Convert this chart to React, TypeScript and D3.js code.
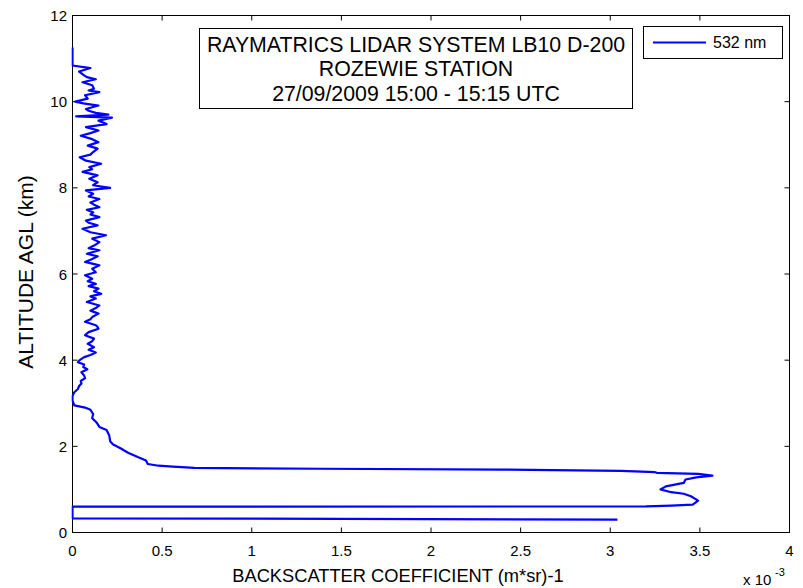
import React from "react";
import * as d3 from "d3";

// Altitude (km AGL) and backscatter coefficient (x 1e-3 (m*sr)^-1), ordered by altitude
const ALT_KM = [
  0.30, 0.33, 0.60, 0.605, 0.625, 0.645, 0.74, 0.84, 0.90, 0.935, 1.0, 1.07, 1.15, 1.23, 1.28, 1.32, 1.36, 1.385, 1.40, 1.43, 1.46, 1.48, 1.50, 1.53, 1.55, 1.59, 1.67, 1.75, 1.85, 1.95, 2.05, 2.12, 2.25, 2.38, 2.45, 2.55, 2.65, 2.75, 2.85, 2.90, 2.95,
  3.06, 3.17, 3.25, 3.33, 3.40, 3.46, 3.52, 3.58, 3.64, 3.72, 3.79, 3.84, 3.90, 3.95, 4.00, 4.07, 4.12, 4.18, 4.24, 4.30, 4.38, 4.44, 4.50, 4.58, 4.65, 4.73, 4.77, 4.81, 4.89, 4.95, 5.00, 5.08, 5.15, 5.21, 5.27, 5.35, 5.43, 5.48, 5.54, 5.60, 5.66, 5.72, 5.77, 5.83, 5.89, 5.97, 6.04, 6.12, 6.20, 6.28, 6.35, 6.41, 6.47, 6.55, 6.60, 6.66, 6.74, 6.82, 6.90,
  6.97, 7.05, 7.13, 7.19, 7.24, 7.32, 7.38, 7.43, 7.49, 7.55, 7.61, 7.66, 7.74, 7.80, 7.86, 7.94, 8.00, 8.06, 8.13, 8.21, 8.29, 8.37, 8.43, 8.48, 8.56, 8.63, 8.71, 8.77, 8.83, 8.91, 8.98,
  9.06, 9.13, 9.21, 9.27, 9.33, 9.41, 9.48, 9.56, 9.63, 9.66, 9.70, 9.74, 9.79, 9.83, 9.91, 9.96, 10.0, 10.07, 10.15, 10.22, 10.26, 10.30, 10.38, 10.45, 10.52, 10.57, 10.61, 10.70, 10.78, 10.84, 11.26,
];
const BACKSCATTER = [
  3.04, 0.0, 0.0, 3.20, 3.34, 3.46, 3.49, 3.45, 3.41, 3.34, 3.28, 3.31, 3.41, 3.42, 3.48, 3.57, 3.49, 3.26, 3.25, 3.06, 2.40, 1.39, 0.68, 0.56, 0.48, 0.42, 0.41, 0.364, 0.31, 0.27, 0.225, 0.21, 0.205, 0.19, 0.15, 0.135, 0.11, 0.115, 0.10, 0.07, 0.01,
  0.0, 0.0, 0.009, 0.03, 0.037, 0.05, 0.046, 0.07, 0.065, 0.05, 0.083, 0.06, 0.065, 0.03, 0.04, 0.065, 0.1, 0.13, 0.09, 0.12, 0.085, 0.11, 0.12, 0.07, 0.09, 0.145, 0.14, 0.13, 0.07, 0.1, 0.11, 0.145, 0.10, 0.13, 0.15, 0.08, 0.13, 0.1, 0.16, 0.12, 0.145, 0.09, 0.13, 0.085, 0.11, 0.07, 0.13, 0.11, 0.15, 0.07, 0.11, 0.14, 0.08, 0.15, 0.09, 0.12, 0.15, 0.11, 0.187,
  0.10, 0.056, 0.14, 0.09, 0.075, 0.15, 0.1, 0.115, 0.08, 0.15, 0.12, 0.10, 0.15, 0.09, 0.115, 0.075, 0.21, 0.115, 0.14, 0.094, 0.14, 0.056, 0.11, 0.094, 0.16, 0.075, 0.04, 0.1, 0.115, 0.14, 0.085,
  0.145, 0.11, 0.046, 0.1, 0.145, 0.075, 0.19, 0.145, 0.22, 0.02, 0.2, 0.13, 0.09, 0.075, 0.145, 0.06, 0.015, 0.085, 0.07, 0.15, 0.09, 0.12, 0.11, 0.056, 0.13, 0.08, 0.065, 0.037, 0.10, 0.0, 0.0,
];

const X_TICKS = [0, 0.5, 1, 1.5, 2, 2.5, 3, 3.5, 4];
const Y_TICKS = [0, 2, 4, 6, 8, 10, 12];
const TITLE_LINES = [
  "RAYMATRICS LIDAR SYSTEM LB10 D-200",
  "ROZEWIE STATION",
  "27/09/2009 15:00 - 15:15 UTC",
];
const LEGEND_LABEL = "532 nm";

export default function App() {
  const W = 803, H = 588;
  const left = 72.5, right = 789.5, top = 15.5, bottom = 532.5;
  const x = d3.scaleLinear().domain([0, 4]).range([left, right]);
  const y = d3.scaleLinear().domain([0, 12]).range([bottom, top]);
  const pts: [number, number][] = ALT_KM.map((a, i) => [BACKSCATTER[i], a]);
  const line = d3
    .line<[number, number]>()
    .x((d) => x(d[0]))
    .y((d) => y(d[1]));
  const font = "'Liberation Sans', Arial, Helvetica, sans-serif";
  const tl = 5;
  return (
    <svg
      width={W}
      height={H}
      style={{ position: "absolute", left: 0, top: 0, background: "#fff" }}
      fontFamily={font}
    >
      <rect x={0} y={0} width={W} height={H} fill="#fff" />
      <defs>
        <clipPath id="plotclip">
          <rect x={left - 1} y={top} width={right - left + 1} height={bottom - top} />
        </clipPath>
      </defs>
      {X_TICKS.map((t) => (
        <g key={"xt" + t}>
          <line x1={x(t)} x2={x(t)} y1={bottom} y2={bottom - tl} stroke="#000" />
          <line x1={x(t)} x2={x(t)} y1={top} y2={top + tl} stroke="#000" />
          <text x={x(t)} y={556} fontSize={15} textAnchor="middle" fill="#000">
            {t}
          </text>
        </g>
      ))}
      {Y_TICKS.map((t) => (
        <g key={"yt" + t}>
          <line x1={left} x2={left + tl} y1={y(t)} y2={y(t)} stroke="#000" />
          <line x1={right} x2={right - tl} y1={y(t)} y2={y(t)} stroke="#000" />
          <text x={67} y={y(t) + 5.5} fontSize={15} textAnchor="end" fill="#000">
            {t}
          </text>
        </g>
      ))}
      <rect x={left} y={top} width={right - left} height={bottom - top} fill="none" stroke="#000" />
      <path d={line(pts) || ""} fill="none" stroke="#0000ff" strokeWidth={2.2} strokeLinejoin="round" clipPath="url(#plotclip)" />
      <rect x={199.5} y={28.5} width={433} height={80} fill="#fff" stroke="#000" />
      {TITLE_LINES.map((s, i) => (
        <text key={s} x={416} y={51.5 + i * 24.5} fontSize={21.3} textAnchor="middle" fill="#000">
          {s}
        </text>
      ))}
      <rect x={643.5} y={26.5} width={139} height={32} fill="#fff" stroke="#000" />
      <line x1={653} x2={706} y1={42.5} y2={42.5} stroke="#0000ff" strokeWidth={2} />
      <text x={713} y={48} fontSize={16} fill="#000">
        {LEGEND_LABEL}
      </text>
      <text x={398} y={582} fontSize={18.3} textAnchor="middle" fill="#000">
        BACKSCATTER COEFFICIENT (m*sr)-1
      </text>
      <text transform={`translate(33,272) rotate(-90)`} fontSize={21} textAnchor="middle" fill="#000">
        ALTITUDE AGL (km)
      </text>
      <text x={743} y={585} fontSize={15} fill="#000">
        x 10
      </text>
      <text x={775} y={576} fontSize={11} fill="#000">
        -3
      </text>
    </svg>
  );
}
